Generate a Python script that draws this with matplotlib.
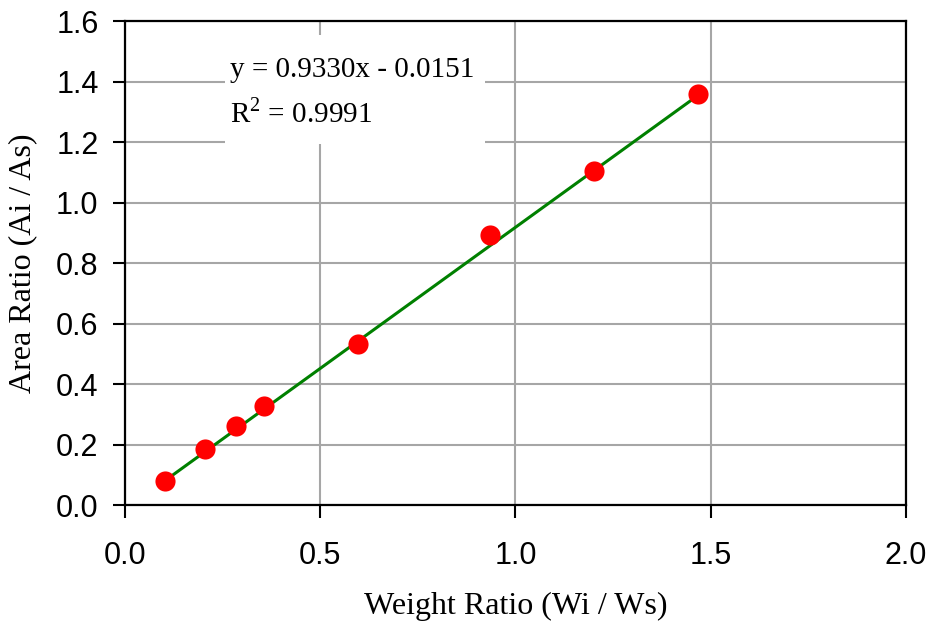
import matplotlib
matplotlib.use("Agg")
import matplotlib.pyplot as plt
from matplotlib.patches import Rectangle
import numpy as np

plt.rcParams["mathtext.fontset"] = "custom"
plt.rcParams["mathtext.rm"] = "Liberation Serif"

# weight ratio vs area ratio
weight_ratio = [0.102, 0.205, 0.284, 0.356, 0.597, 0.935, 1.201, 1.467]
area_ratio = [0.080, 0.185, 0.262, 0.328, 0.533, 0.891, 1.103, 1.358]
slope = 0.9330
intercept = -0.0151
r2 = 0.9991

xticks = [0.0, 0.5, 1.0, 1.5, 2.0]
yticks = [0.0, 0.2, 0.4, 0.6, 0.8, 1.0, 1.2, 1.4, 1.6]

fig = plt.figure(figsize=(9.37, 6.24), dpi=100)
ax = fig.add_axes([0.1334, 0.1907, 0.8333, 0.7756])

ax.set_xlim(0, 2.0)
ax.set_ylim(0, 1.6)
ax.set_xticks(xticks)
ax.set_yticks(yticks)
ax.set_xticklabels([f"{t:.1f}" for t in xticks], fontfamily="Liberation Sans", fontsize=22)
ax.set_yticklabels([f"{t:.1f}" for t in yticks], fontfamily="Liberation Sans", fontsize=22)
ax.tick_params(direction="out", length=9, width=1.5, color="black")
ax.tick_params(axis="y", pad=10)
ax.tick_params(axis="x", pad=17)

ax.grid(True, color="#a6a6a6", linewidth=1.5)
ax.set_axisbelow(True)
for s in ax.spines.values():
    s.set_linewidth(1.6)
    s.set_color("black")

# trend line
xl = np.array([min(weight_ratio), max(weight_ratio)])
ax.plot(xl, slope * xl + intercept, color="#008000", linewidth=2.2, zorder=3)
ax.plot(weight_ratio, area_ratio, "o", color="#ff0000", markersize=14.5,
        markeredgewidth=0, zorder=4)

# white box behind the equation
ax.add_patch(Rectangle((0.128, 0.745), 0.333, 0.226, transform=ax.transAxes,
                       facecolor="white", edgecolor="none", zorder=2))
ax.text(0.134, 0.884, f"y = {slope:.4f}x - {abs(intercept):.4f}",
        transform=ax.transAxes, fontfamily="Liberation Serif", fontsize=21,
        va="baseline", ha="left", zorder=5)
ax.text(0.134, 0.790, "R$^{2}$" + f" = {r2:.4f}",
        transform=ax.transAxes, fontfamily="Liberation Serif", fontsize=21,
        va="baseline", ha="left", zorder=5)

ax.set_xlabel("Weight Ratio (Wi / Ws)", fontfamily="Liberation Serif", fontsize=23, va="top")
ax.set_ylabel("Area Ratio (Ai / As)", fontfamily="Liberation Serif", fontsize=23)
ax.xaxis.set_label_coords(0.5, -0.179)
ax.yaxis.set_label_coords(-0.113, 0.5)

fig.savefig("out.png", dpi=100)
